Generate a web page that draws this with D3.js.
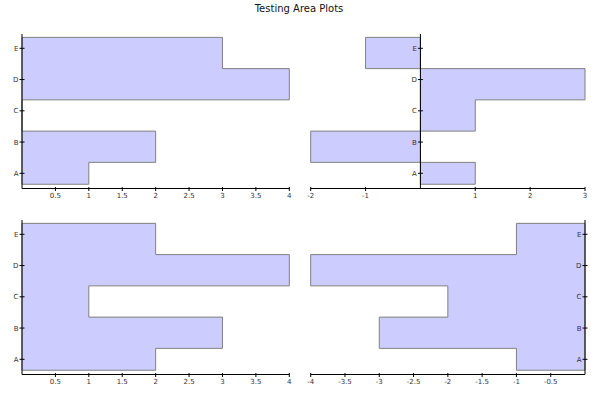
<!DOCTYPE html>
<html>
<head>
<meta charset="utf-8">
<script src="https://cdn.jsdelivr.net/npm/d3@7"></script>
<style>
  html, body { margin: 0; padding: 0; background: #fff; }
  svg { display: block; font-family: "DejaVu Sans", sans-serif; }
</style>
</head>
<body>
<svg id="chart" width="600" height="400"></svg>
<script>
// ---- data ----
const categories = ["A", "B", "C", "D", "E"];
const topLeftValues = [1, 2, 0, 4, 3];
const topRightValues = [1, -2, 1, 3, -1];
const bottomLeftValues = [2, 3, 1, 4, 2];
const bottomRightValues = [-1, -3, -2, -4, -1];
const topLeftTicks = [0.5, 1, 1.5, 2, 2.5, 3, 3.5, 4];
const topRightTicks = [-2, -1, 1, 2, 3];
const bottomLeftTicks = [0.5, 1, 1.5, 2, 2.5, 3, 3.5, 4];
const bottomRightTicks = [-4, -3.5, -3, -2.5, -2, -1.5, -1, -0.5];
const topLeftDomain = [0, 4];
const topRightDomain = [-2, 3];
const bottomLeftDomain = [0, 4];
const bottomRightDomain = [-4, 0];
const chartTitle = "Testing Area Plots";

// ---- layout ----
const svg = d3.select("#chart");
svg.append("text")
  .attr("x", 299).attr("y", 12)
  .attr("text-anchor", "middle")
  .attr("font-size", 10)
  .attr("fill", "#111")
  .text(chartTitle);

const panels = [
  { values: topLeftValues, domain: topLeftDomain, ticks: topLeftTicks, xr: [22, 289.3], top: 34, axisY: 188.5, yA: 173.3 },
  { values: topRightValues, domain: topRightDomain, ticks: topRightTicks, xr: [310.7, 585], top: 34, axisY: 188.5, yA: 173.3 },
  { values: bottomLeftValues, domain: bottomLeftDomain, ticks: bottomLeftTicks, xr: [22, 289.3], top: 220, axisY: 374.5, yA: 359.3 },
  { values: bottomRightValues, domain: bottomRightDomain, ticks: bottomRightTicks, xr: [310.7, 585], top: 220, axisY: 374.5, yA: 359.3 }
];

const stepOffset = 0.35;

panels.forEach(p => {
  const g = svg.append("g");
  const x = d3.scaleLinear().domain(p.domain).range(p.xr);
  const y = d3.scaleLinear().domain([0, categories.length - 1]).range([p.yA, p.yA - 31.25 * (categories.length - 1)]);

  // step points along the category axis
  const pts = [{ pos: -stepOffset, v: p.values[0] }];
  for (let i = 1; i < p.values.length; i++) pts.push({ pos: i - 1 + stepOffset, v: p.values[i] });
  pts.push({ pos: p.values.length - 1 + stepOffset, v: p.values[p.values.length - 1] });

  const area = d3.area()
    .y(d => y(d.pos))
    .x0(x(0))
    .x1(d => x(d.v))
    .curve(d3.curveStepBefore);

  g.append("path")
    .datum(pts)
    .attr("d", area)
    .attr("fill", "#ccccff")
    .attr("stroke", "#808080")
    .attr("stroke-width", 1);

  const x0 = x(0);
  // y axis line
  g.append("line")
    .attr("x1", x0).attr("x2", x0)
    .attr("y1", p.top).attr("y2", p.axisY)
    .attr("stroke", "#000").attr("stroke-width", 1);
  // x axis line
  g.append("line")
    .attr("x1", p.xr[0]).attr("x2", p.xr[1])
    .attr("y1", p.axisY).attr("y2", p.axisY)
    .attr("stroke", "#000").attr("stroke-width", 1);

  // x ticks
  p.ticks.forEach(t => {
    const tx = x(t);
    g.append("line")
      .attr("x1", tx).attr("x2", tx)
      .attr("y1", p.axisY - 1.5).attr("y2", p.axisY + 2.5)
      .attr("stroke", "#000").attr("stroke-width", 1);
    g.append("text")
      .attr("x", tx).attr("y", p.axisY + 9)
      .attr("text-anchor", "middle")
      .attr("font-size", 7)
      .attr("fill", "#333")
      .text(String(t));
  });

  // y ticks
  categories.forEach((c, i) => {
    const ty = y(i);
    g.append("line")
      .attr("x1", x0 - 2.5).attr("x2", x0 + 2.5)
      .attr("y1", ty).attr("y2", ty)
      .attr("stroke", "#000").attr("stroke-width", 1);
    g.append("text")
      .attr("x", x0 - 3.5).attr("y", ty)
      .attr("dy", "0.35em")
      .attr("text-anchor", "end")
      .attr("font-size", 7)
      .attr("fill", "#333")
      .text(c);
  });
});
</script>
</body>
</html>
